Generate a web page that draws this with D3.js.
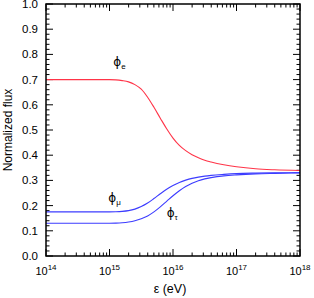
<!DOCTYPE html>
<html>
<head>
<meta charset="utf-8">
<script src="https://cdn.jsdelivr.net/npm/d3@7"></script>
<style>
  html, body { margin: 0; padding: 0; background: #fff; }
  svg { display: block; font-family: "Liberation Sans", Arial, sans-serif; }
</style>
</head>
<body>
<div id="chart"></div>
<script>
// log10 of energy (eV) at sample points
const logE = [14, 15, 15.1, 15.2, 15.3, 15.4, 15.5, 15.6, 15.7, 15.8, 15.9, 16.0, 16.1, 16.2, 16.3, 16.4, 16.5, 16.6, 16.8, 17.0, 17.3, 17.6, 18.0];
// normalized flux per flavour
const phiE   = [0.700, 0.700, 0.699, 0.696, 0.691, 0.680, 0.662, 0.630, 0.590, 0.547, 0.505, 0.468, 0.439, 0.418, 0.402, 0.390, 0.380, 0.373, 0.362, 0.354, 0.346, 0.342, 0.339];
const phiMu  = [0.175, 0.175, 0.1755, 0.177, 0.180, 0.186, 0.196, 0.210, 0.228, 0.247, 0.265, 0.280, 0.292, 0.301, 0.308, 0.313, 0.317, 0.320, 0.324, 0.327, 0.329, 0.330, 0.331];
const phiTau = [0.130, 0.130, 0.1305, 0.132, 0.135, 0.140, 0.148, 0.159, 0.175, 0.195, 0.217, 0.239, 0.259, 0.276, 0.289, 0.299, 0.306, 0.311, 0.318, 0.322, 0.326, 0.328, 0.330];

const xDecades = [14, 15, 16, 17, 18];
const yTicks = [0, 0.1, 0.2, 0.3, 0.4, 0.5, 0.6, 0.7, 0.8, 0.9, 1.0];

const width = 314, height = 298;
const margin = { top: 4, right: 14, bottom: 42, left: 46 };
const innerW = width - margin.left - margin.right;
const innerH = height - margin.top - margin.bottom;

const svg = d3.select("#chart").append("svg")
  .attr("width", width).attr("height", height);

const g = svg.append("g").attr("transform", `translate(${margin.left},${margin.top})`);

const x = d3.scaleLog().domain([1e14, 1e18]).range([0, innerW]);
const y = d3.scaleLinear().domain([0, 1]).range([innerH, 0]);

// minor ticks
const xMinor = [];
for (let d = 14; d < 18; d++) for (let k = 2; k <= 9; k++) xMinor.push(k * Math.pow(10, d));
const yMinor = d3.range(0, 1.0001, 0.02).filter(v => Math.abs(v * 10 - Math.round(v * 10)) > 1e-6);

const tickG = g.append("g").attr("stroke", "#000").attr("stroke-width", 1);
xDecades.forEach(d => {
  const px = x(Math.pow(10, d));
  tickG.append("line").attr("x1", px).attr("x2", px).attr("y1", innerH).attr("y2", innerH - 7);
  tickG.append("line").attr("x1", px).attr("x2", px).attr("y1", 0).attr("y2", 7);
});
xMinor.forEach(v => {
  const px = x(v);
  tickG.append("line").attr("x1", px).attr("x2", px).attr("y1", innerH).attr("y2", innerH - 3.5);
  tickG.append("line").attr("x1", px).attr("x2", px).attr("y1", 0).attr("y2", 3.5);
});
yTicks.forEach(v => {
  const py = y(v);
  tickG.append("line").attr("x1", 0).attr("x2", 7).attr("y1", py).attr("y2", py);
  tickG.append("line").attr("x1", innerW).attr("x2", innerW - 7).attr("y1", py).attr("y2", py);
});
yMinor.forEach(v => {
  const py = y(v);
  tickG.append("line").attr("x1", 0).attr("x2", 3.5).attr("y1", py).attr("y2", py);
  tickG.append("line").attr("x1", innerW).attr("x2", innerW - 3.5).attr("y1", py).attr("y2", py);
});

// tick labels
g.append("g").selectAll("text").data(yTicks).join("text")
  .attr("x", -8).attr("y", d => y(d)).attr("dy", "0.35em")
  .attr("text-anchor", "end").attr("font-size", 11.5).attr("fill", "#000")
  .text(d => d.toFixed(1));

const xl = g.append("g").selectAll("text").data(xDecades).join("text")
  .attr("x", d => x(Math.pow(10, d))).attr("y", innerH + 19)
  .attr("text-anchor", "middle").attr("font-size", 11).attr("fill", "#000");
xl.append("tspan").text("10");
xl.append("tspan").attr("font-size", 8).attr("dy", -5).text(d => d);

// axis titles
g.append("text")
  .attr("x", innerW / 2 - 3).attr("y", innerH + 37)
  .attr("text-anchor", "middle").attr("font-size", 12.5).attr("fill", "#000")
  .text("ε (eV)");
svg.append("text")
  .attr("transform", `translate(12,${margin.top + innerH / 2}) rotate(-90)`)
  .attr("text-anchor", "middle").attr("font-size", 12).attr("fill", "#000")
  .text("Normalized flux");

// curves
const line = d3.line()
  .x((d, i) => x(Math.pow(10, logE[i])))
  .y(d => y(d))
  .curve(d3.curveMonotoneX);

const series = [
  { name: "e", values: phiE, color: "#ff3448" },
  { name: "μ", values: phiMu, color: "#3c3cff" },
  { name: "τ", values: phiTau, color: "#3c3cff" }
];
g.append("g").selectAll("path").data(series).join("path")
  .attr("fill", "none").attr("stroke", d => d.color).attr("stroke-width", 1.1)
  .attr("d", d => line(d.values));

// flavour labels
const labels = [
  { sub: "e", lx: 15.06, ly: 0.755 },
  { sub: "μ", lx: 14.98, ly: 0.215 },
  { sub: "τ", lx: 15.9, ly: 0.155 }
];
const lab = g.append("g").selectAll("text").data(labels).join("text")
  .attr("x", d => x(Math.pow(10, d.lx))).attr("y", d => y(d.ly))
  .attr("font-size", 12).attr("fill", "#000");
lab.append("tspan").attr("font-family", "'DejaVu Sans'").text("\u03D5");
lab.append("tspan").attr("font-size", 8).attr("dy", 3).text(d => d.sub);

// frame
g.append("rect").attr("width", innerW).attr("height", innerH)
  .attr("fill", "none").attr("stroke", "#000").attr("stroke-width", 1.5);
</script>
</body>
</html>
